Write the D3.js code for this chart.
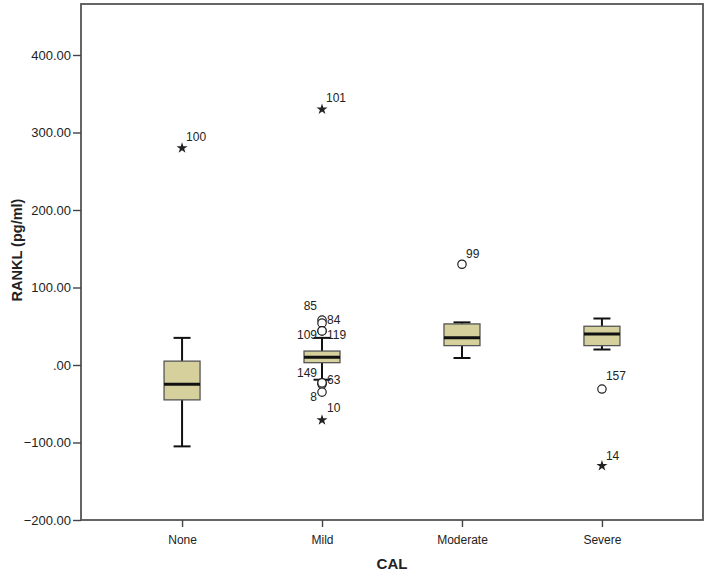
<!DOCTYPE html>
<html><head><meta charset="utf-8">
<script src="https://cdn.jsdelivr.net/npm/d3@7"></script>
<style>body{margin:0;background:#fff}svg{display:block}text{font-family:"Liberation Sans",Arial,sans-serif}</style>
</head><body>
<svg id="c" width="709" height="574"></svg>
<script>
const categories = ["None","Mild","Moderate","Severe"];
const whiskerLow  = [-105, -19, 9, 20];
const q1          = [-45, 3, 25, 25];
const medians     = [-25, 10, 35, 40];
const q3          = [5, 18, 53, 50];
const whiskerHigh = [35, 35, 55, 60];
const yTicks = [-200,-100,0,100,200,300,400];
// outliers: category, value, kind, label
const outCat   = ["None","Mild","Mild","Mild","Mild","Mild","Mild","Mild","Mild","Mild","Mild","Moderate","Severe","Severe"];
const outVal   = [280, 330, 58, 54, 44, 44, -23, -25, -35, -71, -23, 130, -31, -130];
const outKind  = ["star","star","circle","circle","circle","circle","circle","circle","circle","star","circle","circle","circle","star"];
const outLabel = ["100","101","85","84","109","119","149","63","8","10","",  "99","157","14"];

// label placement offsets (pixels, relative to the mark)
const labelDx = [4, 4, -5, 5, -5, 5, -5, 5, -5, 5, 0, 4, 4, 4];
const labelDy = [-7, -7, -10, 1, 8, 8, -6, 0, 9, -8, 0, -6, -9, -6];
const labelAnchor = ["start","start","end","start","end","start","end","start","end","start","start","start","start","start"];

const svg = d3.select("#c");
const L=81,R=703,T=4,B=520;
const x = d3.scalePoint().domain(categories).range([L,R]).padding(0.722);
const y = d3.scaleLinear().domain([-200, 465.8]).range([B,T]);
const fmt = v => v===0 ? ".00" : d3.format(".2f")(v);

// frame
svg.append("rect").attr("x",L).attr("y",T).attr("width",R-L).attr("height",B-T)
  .attr("fill","none").attr("stroke","#555").attr("stroke-width",1.8);

// y axis
const ya = svg.append("g").attr("transform",`translate(${L},0)`)
  .call(d3.axisLeft(y).tickValues(yTicks).tickFormat(fmt).tickSize(8).tickPadding(2));
ya.select(".domain").remove();
ya.selectAll("line").attr("stroke","#444").attr("stroke-width",1.4);
ya.selectAll("text").attr("font-size",13).attr("fill","#222");

// x axis
const xa = svg.append("g").attr("transform",`translate(0,${B})`)
  .call(d3.axisBottom(x).tickSize(7).tickPadding(8));
xa.select(".domain").remove();
xa.selectAll("line").attr("stroke","#444").attr("stroke-width",1.4);
xa.selectAll("text").attr("font-size",12).attr("fill","#222");

// titles
svg.append("text").attr("x",392).attr("y",569).attr("text-anchor","middle")
  .attr("font-size",15).attr("font-weight","bold").attr("fill","#222").text("CAL");
svg.append("text").attr("transform",`translate(22,250) rotate(-90)`).attr("text-anchor","middle")
  .attr("font-size",14.5).attr("font-weight","bold").attr("fill","#222").text("RANKL (pg/ml)");

const bw = 36, cw = 17;
categories.forEach((c,i)=>{
  const cx = x(c);
  const g = svg.append("g");
  g.append("line").attr("x1",cx).attr("x2",cx).attr("y1",y(whiskerHigh[i])).attr("y2",y(whiskerLow[i]))
    .attr("stroke","#111").attr("stroke-width",2);
  [whiskerHigh[i],whiskerLow[i]].forEach(v=>{
    g.append("line").attr("x1",cx-cw/2).attr("x2",cx+cw/2).attr("y1",y(v)).attr("y2",y(v))
      .attr("stroke","#111").attr("stroke-width",2);
  });
  g.append("rect").attr("x",cx-bw/2).attr("width",bw).attr("y",y(q3[i])).attr("height",y(q1[i])-y(q3[i]))
    .attr("fill","#d5d09c").attr("stroke","#555").attr("stroke-width",1.3);
  g.append("line").attr("x1",cx-bw/2).attr("x2",cx+bw/2).attr("y1",y(medians[i])).attr("y2",y(medians[i]))
    .attr("stroke","#111").attr("stroke-width",3);
});

outVal.forEach((v,i)=>{
  const cx = x(outCat[i]), cy = y(v);
  if(outKind[i]==="circle"){
    svg.append("circle").attr("cx",cx).attr("cy",cy).attr("r",4.2)
      .attr("fill","#fff").attr("stroke","#222").attr("stroke-width",1.2);
  } else {
    svg.append("path").attr("d",d3.symbol(d3.symbolStar,38)()).attr("transform",`translate(${cx},${cy})`)
      .attr("fill","#222");
  }
  if(outLabel[i]){
    svg.append("text").attr("x",cx+labelDx[i]).attr("y",cy+labelDy[i]).attr("text-anchor",labelAnchor[i])
      .attr("font-size",12).attr("fill","#222").text(outLabel[i]);
  }
});
</script>
</body></html>
